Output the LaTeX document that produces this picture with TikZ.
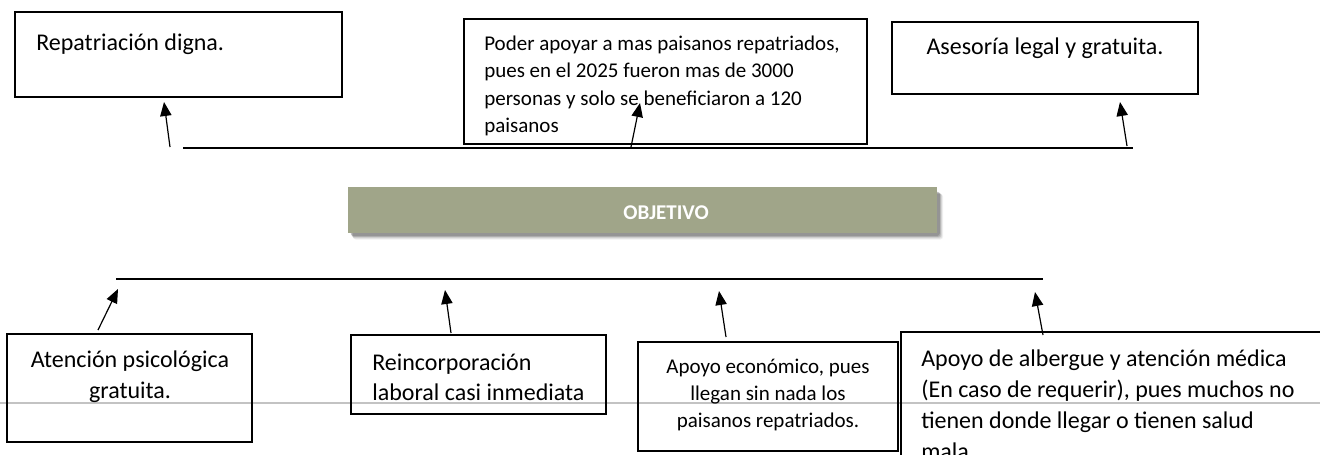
\documentclass[tikz,border=0pt]{standalone}
\usepackage{fontspec}
\setmainfont{Carlito}
\usetikzlibrary{arrows.meta,fit}
\definecolor{objfill}{RGB}{160,165,137}
\definecolor{pageline}{RGB}{195,195,195}
\tikzset{
  box/.style={draw=black, line width=1.4pt, inner sep=0pt, rectangle},
  txt/.style={inner sep=0pt, font=\fontsize{18pt}{22pt}\selectfont},
  smalltxt/.style={inner sep=0pt, font=\fontsize{15.75pt}{19pt}\selectfont},
  hline/.style={line width=1.1pt},
  arr/.style={line width=0.9pt, -{Triangle[length=10.5pt,width=8.5pt]}},
}
\begin{document}
\begin{tikzpicture}[x=0.75pt,y=-0.75pt]
\useasboundingbox (0,0) rectangle (1320,454);
\fill[white] (0,0) rectangle (1320,454);
\clip (0,0) rectangle (1320,454);

% faint page line
\draw[pageline, line width=1.1pt] (0,403) -- (1320,403);

% top boxes
\node[box, fit={(15,12) (342,97)}] (A) {};
\node[txt, anchor=base west] (a1) at (36,50) {Repatriación digna.};

\node[box, fit={(464,19) (867,144)}] (B) {};
\begin{scope}
\clip (464,19) rectangle (867,144);
\node[smalltxt, anchor=base west] (b1) at (484,50) {Poder apoyar a mas paisanos repatriados,};
\node[smalltxt, anchor=base west] (b2) at (484,77.5) {pues en el 2025 fueron mas de 3000};
\node[smalltxt, anchor=base west] (b3) at (484,105) {personas y solo se beneficiaron a 120};
\node[smalltxt, anchor=base west] (b4) at (484,132.5) {paisanos};
\end{scope}

\node[box, fit={(892,22) (1198,94)}] (C) {};
\node[txt, anchor=base] (c1) at (1045,54) {Asesoría legal y gratuita.};

% top line and arrows
\coordinate (tl1) at (183,148);
\coordinate (tl2) at (1133,148);
\draw[hline] (tl1) -- (tl2);
\coordinate (t1a) at (170,147); \coordinate (t1b) at (164,102);
\coordinate (t2a) at (631,147); \coordinate (t2b) at (640,103);
\coordinate (t3a) at (1127,146); \coordinate (t3b) at (1120,102);
\draw[arr] (t1a) -- (t1b);
\draw[arr] (t2a) -- (t2b);
\draw[arr] (t3a) -- (t3b);

% objective box with soft shadow
\foreach \i/\o in {5/0.06,4/0.08,3/0.10,2/0.12,1/0.14}{
  \fill[black, opacity=\o, rounded corners=2pt] (348+2+\i*0.6,187+4+\i*0.6) rectangle (937+2+\i*0.8,233+2+\i*0.9);
}
\node[fill=objfill, inner sep=0pt, fit={(348,187) (937,233)}] (OBJ) {};
\node[inner sep=0pt, anchor=base, text=white, font=\fontsize{15.75pt}{19pt}\selectfont\bfseries] (objt) at (666,219) {OBJETIVO};

% bottom line and arrows
\coordinate (bl1) at (116,279);
\coordinate (bl2) at (1043,279);
\draw[hline] (bl1) -- (bl2);
\coordinate (u1a) at (98,330); \coordinate (u1b) at (118,289);
\coordinate (u2a) at (451,333); \coordinate (u2b) at (445,290);
\coordinate (u3a) at (726,337); \coordinate (u3b) at (719,291);
\coordinate (u4a) at (1043,335); \coordinate (u4b) at (1035,292);
\draw[arr] (u1a) -- (u1b);
\draw[arr] (u2a) -- (u2b);
\draw[arr] (u3a) -- (u3b);
\draw[arr] (u4a) -- (u4b);

% bottom boxes
\node[box, fit={(7,334) (252,442)}] (D) {};
\node[txt, anchor=base] (d1) at (130,367) {Atención psicológica};
\node[txt, anchor=base] (d2) at (130,398) {gratuita.};

\node[box, fit={(351,335) (606,414)}] (E) {};
\node[txt, anchor=base west] (e1) at (372,370) {Reincorporación};
\node[txt, anchor=base west] (e2) at (372,400) {laboral casi inmediata};

\node[box, fit={(638,342) (898,451)}] (F) {};
\node[smalltxt, anchor=base] (f1) at (768,373) {Apoyo económico, pues};
\node[smalltxt, anchor=base] (f2) at (768,400) {llegan sin nada los};
\node[smalltxt, anchor=base] (f3) at (768,427) {paisanos repatriados.};

\node[box, fit={(901,332) (1345,490)}] (G) {};
\node[txt, anchor=base west] (g1) at (921,366) {Apoyo de albergue y atención médica};
\node[txt, anchor=base west] (g2) at (921,397) {(En caso de requerir), pues muchos no};
\node[txt, anchor=base west] (g3) at (921,428) {tienen donde llegar o tienen salud};
\node[txt, anchor=base west] (g4) at (921,459) {mala};
\end{tikzpicture}
\end{document}
